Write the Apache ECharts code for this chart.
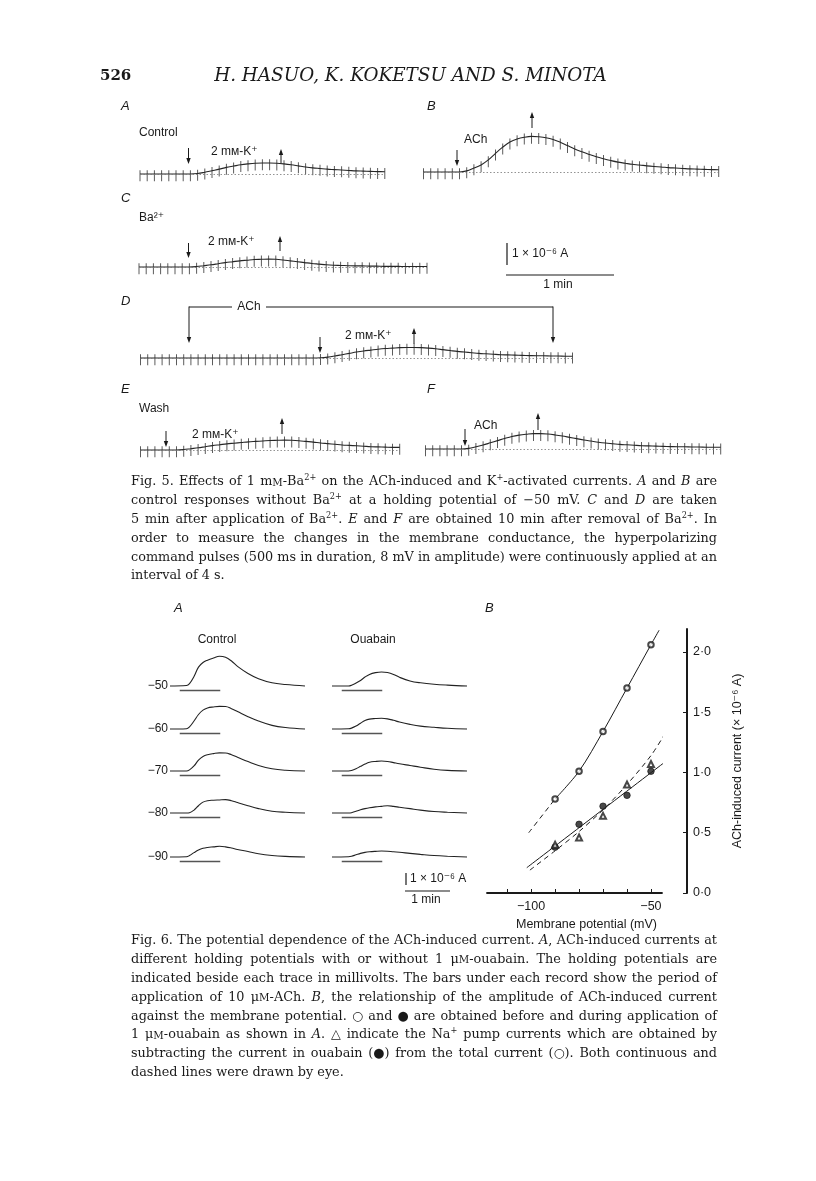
<!DOCTYPE html>
<html><head><meta charset="utf-8">
<script src="https://cdn.jsdelivr.net/npm/echarts@6/dist/echarts.min.js"></script>
<style>html,body{margin:0;padding:0;background:#fff}#c{width:816px;height:1181px}</style>
</head><body><div id="c"></div>
<script>
// ================= DATA =================
// Fig. 5 traces: current (x10^-6 A) at each hyperpolarizing command pulse (every 4 s)
const pulseInterval = 4;
const fig5A = [0,0,0,0,0,0,0,0,0.02,0.08,0.15,0.22,0.30,0.36,0.42,0.46,0.49,0.50,0.50,0.49,0.46,0.42,0.37,0.32,0.28,0.25,0.22,0.20,0.18,0.16,0.14,0.13,0.12,0.11,0.10];
const fig5B = [0,0,0,0,0,0,0.05,0.18,0.32,0.55,0.85,1.13,1.36,1.50,1.58,1.62,1.60,1.56,1.48,1.35,1.20,1.05,0.92,0.80,0.69,0.60,0.52,0.45,0.40,0.35,0.32,0.28,0.25,0.23,0.20,0.18,0.16,0.14,0.13,0.12,0.11,0.10];
const fig5C = [0,0,0,0,0,0,0,0,0.02,0.06,0.10,0.15,0.20,0.24,0.28,0.31,0.34,0.35,0.36,0.35,0.32,0.28,0.24,0.20,0.16,0.13,0.10,0.08,0.07,0.06,0.05,0.05,0.04,0.04,0.03,0.03,0.03,0.02,0.02,0.02,0.02];
const fig5D = [0,0,0,0,0,0,0,0,0,0,0,0,0,0,0,0,0,0,0,0,0,0,0,0,0,0.01,0.04,0.09,0.15,0.21,0.27,0.32,0.36,0.40,0.43,0.45,0.47,0.48,0.48,0.47,0.45,0.42,0.38,0.34,0.30,0.27,0.24,0.21,0.19,0.17,0.15,0.14,0.13,0.12,0.11,0.10,0.10,0.09,0.09,0.08,0.08];
const fig5E = [0,0,0,0,0,0,0.02,0.06,0.10,0.15,0.20,0.24,0.28,0.31,0.34,0.37,0.39,0.41,0.43,0.44,0.45,0.44,0.42,0.39,0.36,0.32,0.29,0.26,0.23,0.21,0.19,0.17,0.15,0.14,0.13,0.12,0.12];
const fig5F = [0,0,0,0,0,0,0.03,0.10,0.18,0.28,0.38,0.48,0.57,0.63,0.67,0.70,0.70,0.68,0.64,0.59,0.53,0.47,0.41,0.36,0.31,0.27,0.24,0.21,0.19,0.17,0.15,0.14,0.13,0.12,0.11,0.10,0.10,0.09,0.09,0.08,0.08,0.08];

// Fig. 6A traces: time (s) and ACh-induced current (x10^-6 A)
const fig6Time = [0,22,26,32,38,44,50,58,66,74,82,90,104,118,136,154,180];
const ctrl50 = [0,0.03,0.16,0.65,1.30,1.62,1.78,1.93,2.05,1.98,1.72,1.35,0.86,0.50,0.22,0.10,0];
const ctrl60 = [0,0.02,0.15,0.55,1.00,1.30,1.45,1.52,1.56,1.55,1.40,1.20,0.85,0.55,0.25,0.10,0];
const ctrl70 = [0,0,0.08,0.35,0.75,1.00,1.12,1.20,1.25,1.24,1.12,0.95,0.65,0.38,0.15,0.05,0];
const ctrl80 = [0,0,0.02,0.20,0.50,0.75,0.85,0.88,0.90,0.92,0.85,0.72,0.50,0.30,0.12,0.05,0];
const ctrl90 = [0,0.02,0.10,0.30,0.48,0.60,0.66,0.70,0.74,0.70,0.62,0.52,0.38,0.22,0.10,0.04,0];
const ouab50 = [0,0,0.05,0.20,0.38,0.62,0.80,0.92,0.97,0.93,0.80,0.60,0.35,0.22,0.12,0.06,0];
const ouab60 = [0,0.02,0.06,0.20,0.40,0.58,0.68,0.72,0.74,0.70,0.60,0.48,0.32,0.20,0.12,0.05,0];
const ouab70 = [0,0,0.03,0.15,0.32,0.48,0.60,0.66,0.69,0.66,0.58,0.50,0.38,0.26,0.12,0.04,0];
const ouab80 = [0,0,0.02,0.12,0.22,0.30,0.36,0.42,0.46,0.50,0.46,0.40,0.30,0.20,0.10,0.05,0];
const ouab90 = [0,0.02,0.05,0.15,0.25,0.32,0.36,0.39,0.41,0.40,0.36,0.33,0.25,0.18,0.10,0.05,0];
const achPeriod = [13, 67];              // s, bar under each record
const holdingLabels = ['−50','−60','−70','−80','−90'];

// Fig. 6B
const potentials = [-90,-80,-70,-60,-50];
const totalCurrent   = [0.78,1.01,1.34,1.70,2.06];   // open circles
const ouabainCurrent = [0.38,0.57,0.72,0.81,1.01];   // filled circles
const pumpCurrent    = [0.40,0.46,0.64,0.90,1.07];   // triangles
const totalFitSolid  = [[-90,0.78],[-80,1.01],[-70,1.34],[-60,1.70],[-50,2.06],[-46.6,2.18]];
const totalFitDash   = [[-101,0.50],[-90,0.78]];
const ouabainFit     = [[-101.8,0.21],[-44.6,1.08]];
const pumpFit        = [[-100.5,0.19],[-90,0.35],[-80,0.51],[-70,0.69],[-60,0.90],[-50,1.14],[-44.5,1.31]];
const yTicksB = [0,0.5,1.0,1.5,2.0];
const xTicksB = [-110,-100,-90,-80,-70,-60,-50];
const xLabelsB = [-100,-50];

// ================= LAYOUT / STYLE =================
const SANS = '"Liberation Sans","DejaVu Sans",sans-serif';
const SERIF = '"DejaVu Serif","Liberation Serif",serif';
const INK = '#1a1a1a';
const PPS5 = 1.8, PPU5 = 22, Y5MIN = -0.45, Y5MAX = 1.8;
const PPS6 = 0.75, PPU6 = 14.5, Y6MIN = -0.6, Y6MAX = 2.3;

const grids = [], xAxes = [], yAxes = [], series = [], graphics = [];

function addGrid(g, xa, ya){ grids.push(g); const i = grids.length-1; xa.gridIndex=i; ya.gridIndex=i; xAxes.push(xa); yAxes.push(ya); return i; }

function fig5Trace(values, left, baseY){
  const tmax = (values.length-1)*pulseInterval;
  const i = addGrid({left, top: baseY - Y5MAX*PPU5, width: tmax*PPS5, height: (Y5MAX-Y5MIN)*PPU5},
    {type:'value', min:0, max:tmax, show:false}, {type:'value', min:Y5MIN, max:Y5MAX, show:false});
  const data = values.map((v,k)=>[k*pulseInterval, v]);
  series.push({type:'line', xAxisIndex:i, yAxisIndex:i, data, smooth:0.35, showSymbol:false, silent:true,
    lineStyle:{color:'#262626', width:1.1},
    markLine:{silent:true, symbol:'none', label:{show:false}, lineStyle:{type:[1.5,2], color:'#777', width:0.8}, data:[{yAxis:0}]}});
  series.push({type:'scatter', xAxisIndex:i, yAxisIndex:i, data, symbol:'rect', symbolSize:[1,11], symbolOffset:[0,1.8], silent:true,
    itemStyle:{color:'#333'}});
}
function fig6Trace(values, left, baseY){
  const i = addGrid({left, top: baseY - Y6MAX*PPU6, width: 180*PPS6, height: (Y6MAX-Y6MIN)*PPU6},
    {type:'value', min:0, max:180, show:false}, {type:'value', min:Y6MIN, max:Y6MAX, show:false});
  series.push({type:'line', xAxisIndex:i, yAxisIndex:i, data: fig6Time.map((t,k)=>[t, values[k]]), smooth:0.4, showSymbol:false, silent:true,
    lineStyle:{color:'#222', width:1.1},
    markLine:{silent:true, symbol:'none', label:{show:false}, lineStyle:{type:'solid', color:'#555', width:1.3},
      data:[[{coord:[achPeriod[0],-0.3]},{coord:[achPeriod[1],-0.3]}]]}});
}

// ---- graphic helpers ----
function T(x,y,text,font,align){ align=align||'left';
  graphics.push({type:'text', silent:true, z:10, style:{x, y, text, font, fill:INK, align, textAlign:align, verticalAlign:'middle', textVerticalAlign:'middle'}}); }
function L(x1,y1,x2,y2,w,color){ graphics.push({type:'line', silent:true, z:10, shape:{x1,y1,x2,y2}, style:{stroke:color||INK, lineWidth:w||1}}); }
function ARROW(x, yFrom, yTo){ const d = Math.sign(yTo-yFrom);
  L(x, yFrom, x, yTo - d*4, 1);
  graphics.push({type:'polygon', silent:true, z:10, shape:{points:[[x-2.2,yTo-d*6],[x+2.2,yTo-d*6],[x,yTo]]}, style:{fill:INK}}); }

const mctx = document.createElement('canvas').getContext('2d');
function fontStr(k,size,fam){
  if(k==='i') return 'italic '+size.toFixed(2)+'px '+fam;
  if(k==='sup') return (size*0.64).toFixed(2)+'px '+fam;
  if(k==='sc') return (size*0.8).toFixed(2)+'px '+fam;
  return size.toFixed(2)+'px '+fam;
}
function parseWord(w){
  const segs=[]; let cur='', kind='n', i=0;
  const push=()=>{ if(cur){ segs.push({t:cur,k:kind}); cur=''; } };
  while(i<w.length){
    const c=w[i];
    if(c==='_'){ push(); kind = kind==='i'?'n':'i'; i++; continue; }
    if((c==='^'||c==='~') && w[i+1]==='{'){ push(); const j=w.indexOf('}',i); segs.push({t:w.slice(i+2,j), k:c==='^'?'sup':'sc'}); i=j+1; continue; }
    cur+=c; i++;
  }
  push(); return segs;
}
function segW(s,size,fam){ mctx.font = fontStr(s.k,size,fam); return mctx.measureText(s.t).width; }
function wordW(segs,size,fam){ return segs.reduce((a,s)=>a+segW(s,size,fam),0); }
function drawWord(x,y,segs,size,fam){
  let cx=x;
  segs.forEach(s=>{
    let dy=0;
    if(s.k==='sup') dy = -size*0.3;
    if(s.k==='sc') dy = size*0.07;
    T(cx, y+dy, s.t, fontStr(s.k,size,fam));
    cx += segW(s,size,fam);
  });
}
function natural(line,size,fam){
  const ws=line.split(' ').map(parseWord); mctx.font=fontStr('n',size,fam);
  return ws.reduce((a,s)=>a+wordW(s,size,fam),0) + (ws.length-1)*mctx.measureText(' ').width;
}
function drawParagraph(lines, x0, x1, y0, lh, size, fam){
  lines.forEach((line,li)=>{
    const words=line.split(' '); const segsList=words.map(parseWord);
    const widths=segsList.map(s=>wordW(s,size,fam)); const sum=widths.reduce((a,b)=>a+b,0);
    mctx.font=fontStr('n',size,fam); const sp=mctx.measureText(' ').width;
    const justify = li < lines.length-1;
    const gap = justify && words.length>1 ? (x1-x0-sum)/(words.length-1) : sp;
    let x=x0; const y=y0+li*lh;
    segsList.forEach((segs,k)=>{ drawWord(x,y,segs,size,fam); x+=widths[k]+gap; });
  });
}

// ================= FIG. 5 =================
fig5Trace(fig5A, 140, 174);
fig5Trace(fig5B, 423.5, 172);
fig5Trace(fig5C, 139, 267);
fig5Trace(fig5D, 140.5, 358);
fig5Trace(fig5E, 140.5, 450);
fig5Trace(fig5F, 425.5, 449);

const LBL = 'italic 13px '+SANS, TXT = '12px '+SANS;
T(121,106,'A',LBL); T(427,106,'B',LBL);
T(139,133,'Control',TXT);
ARROW(188.5,148,164); T(211,152,'2 mᴍ-K⁺',TXT); ARROW(281,163,149);
T(464,140,'ACh',TXT); ARROW(457,150,166); ARROW(532,128,112);
T(121,198,'C',LBL); T(139,218,'Ba²⁺',TXT);
ARROW(188.5,243,258); T(208,242,'2 mᴍ-K⁺',TXT); ARROW(280,251,236);
// scale bar fig 5
L(507,243,507,243+PPU5,1.2); T(512,254,'1 × 10⁻⁶ A',TXT);
L(506,275,506+60*PPS5,275,1.2); T(558,285,'1 min',TXT,'center');
// D
T(121,301,'D',LBL);
L(189,307,232,307,1.2); T(249,307,'ACh',TXT,'center'); L(266,307,553,307,1.2);
ARROW(189,306.5,343); ARROW(553,306.5,343);
ARROW(320,337,353); T(345,336,'2 mᴍ-K⁺',TXT); ARROW(414,344,328);
// E / F
T(121,389,'E',LBL); T(427,389,'F',LBL);
T(139,409,'Wash',TXT);
ARROW(166,431,447); T(192,435,'2 mᴍ-K⁺',TXT); ARROW(282,434,418);
ARROW(465,429,446); T(474,426,'ACh',TXT); ARROW(538,430,413);

// ================= FIG. 6A =================
const base6 = [686,729,771,813,857];
[ctrl50,ctrl60,ctrl70,ctrl80,ctrl90].forEach((v,k)=>fig6Trace(v,170,base6[k]));
[ouab50,ouab60,ouab70,ouab80,ouab90].forEach((v,k)=>fig6Trace(v,332,base6[k]));
holdingLabels.forEach((s,k)=>T(168,base6[k],s,TXT,'right'));
T(174,608,'A',LBL); T(485,608,'B',LBL);
T(217,640,'Control',TXT,'center'); T(373,640,'Ouabain',TXT,'center');
L(406,873,406,885,1.2); T(410,879,'1 × 10⁻⁶ A',TXT);
L(405,891,405+60*PPS6,891,1.2); T(426,900,'1 min',TXT,'center');

// ================= FIG. 6B =================
const gB = addGrid({left:487, top:629, width:175, height:264},
  {type:'value', min:-118.4, max:-45.4,
    axisLine:{onZero:false, lineStyle:{color:INK, width:1.8}},
    axisTick:{inside:true, length:4, lineStyle:{color:INK, width:1}, customValues:xTicksB},
    axisLabel:{customValues:xLabelsB, formatter:v=>(v<0?'−':'')+Math.abs(v), color:INK, fontFamily:SANS, fontSize:12.5, margin:7},
    splitLine:{show:false},
    name:'Membrane potential (mV)', nameLocation:'middle', nameGap:25,
    nameTextStyle:{color:INK, fontFamily:SANS, fontSize:12.5, padding:[0,0,0,24]}},
  {type:'value', position:'right', offset:25, min:0, max:2.19,
    axisLine:{show:true, lineStyle:{color:INK, width:2}},
    axisTick:{show:true, inside:true, length:4, lineStyle:{color:INK}, customValues:yTicksB},
    axisLabel:{customValues:yTicksB, formatter:v=>v.toFixed(1).replace('.','·'), color:INK, fontFamily:SANS, fontSize:12.5, margin:6},
    splitLine:{show:false},
    name:'ACh-induced current (× 10⁻⁶ A)', nameLocation:'middle', nameGap:44, nameRotate:90,
    nameTextStyle:{color:INK, fontFamily:SANS, fontSize:12.5, padding:[0,0,6,0]}});
const lineB = (data, dash) => ({type:'line', xAxisIndex:gB, yAxisIndex:gB, data, smooth:0.3, showSymbol:false, silent:true, z:2,
  lineStyle:{color:INK, width:1, type: dash ? [5,4] : 'solid'}});
series.push(lineB(totalFitSolid,false), lineB(totalFitDash,true), lineB(ouabainFit,false), lineB(pumpFit,true));
const ptsB = (vals, symbol, size) => ({type:'scatter', xAxisIndex:gB, yAxisIndex:gB, z:4, silent:true,
  data: potentials.map((p,k)=>[p, vals[k]]), symbol, symbolSize:size, itemStyle:{color:INK, borderColor:INK, borderWidth:0.9}});
series.push(ptsB(totalCurrent,'emptyCircle',5.5), ptsB(ouabainCurrent,'circle',6.5), ptsB(pumpCurrent,'emptyTriangle',6));

// ================= TEXT =================
T(100,76,'526', 'bold 15px '+SERIF);
(function(){ const t='H. HASUO, K. KOKETSU AND S. MINOTA'; mctx.font='italic 17px '+SERIF;
  const s = 17*393/mctx.measureText(t).width; T(410.5,76,t,'italic '+s.toFixed(2)+'px '+SERIF,'center'); })();

const cap5 = [
 'Fig. 5. Effects of 1 m~{M}-Ba^{2+} on the ACh-induced and K^{+}-activated currents. _A_ and _B_ are',
 'control responses without Ba^{2+} at a holding potential of −50 mV. _C_ and _D_ are taken',
 '5 min after application of Ba^{2+}. _E_ and _F_ are obtained 10 min after removal of Ba^{2+}. In',
 'order to measure the changes in the membrane conductance, the hyperpolarizing',
 'command pulses (500 ms in duration, 8 mV in amplitude) were continuously applied at an',
 'interval of 4 s.'];
const cap6 = [
 'Fig. 6. The potential dependence of the ACh-induced current. _A_, ACh-induced currents at',
 'different holding potentials with or without 1 μ~{M}-ouabain. The holding potentials are',
 'indicated beside each trace in millivolts. The bars under each record show the period of',
 'application of 10 μ~{M}-ACh. _B_, the relationship of the amplitude of ACh-induced current',
 'against the membrane potential. ○ and ● are obtained before and during application of',
 '1 μ~{M}-ouabain as shown in _A_. △ indicate the Na^{+} pump currents which are obtained by',
 'subtracting the current in ouabain (●) from the total current (○). Both continuous and',
 'dashed lines were drawn by eye.'];
const X0=131, X1=717;
let maxNat=0; cap5.concat(cap6).forEach(l=>{ maxNat=Math.max(maxNat, natural(l,13,SERIF)); });
const capSize = 13*(X1-X0)/maxNat;
drawParagraph(cap5, X0, X1, 482, 18.8, capSize, SERIF);
drawParagraph(cap6, X0, X1, 941, 18.8, capSize, SERIF);

// ================= CHART =================
const chart = echarts.init(document.getElementById('c'), null, {renderer:'canvas', width:816, height:1181});
chart.setOption({backgroundColor:'#fff', animation:false, grid:grids, xAxis:xAxes, yAxis:yAxes, series, graphic:{elements:graphics}});
</script></body></html>
